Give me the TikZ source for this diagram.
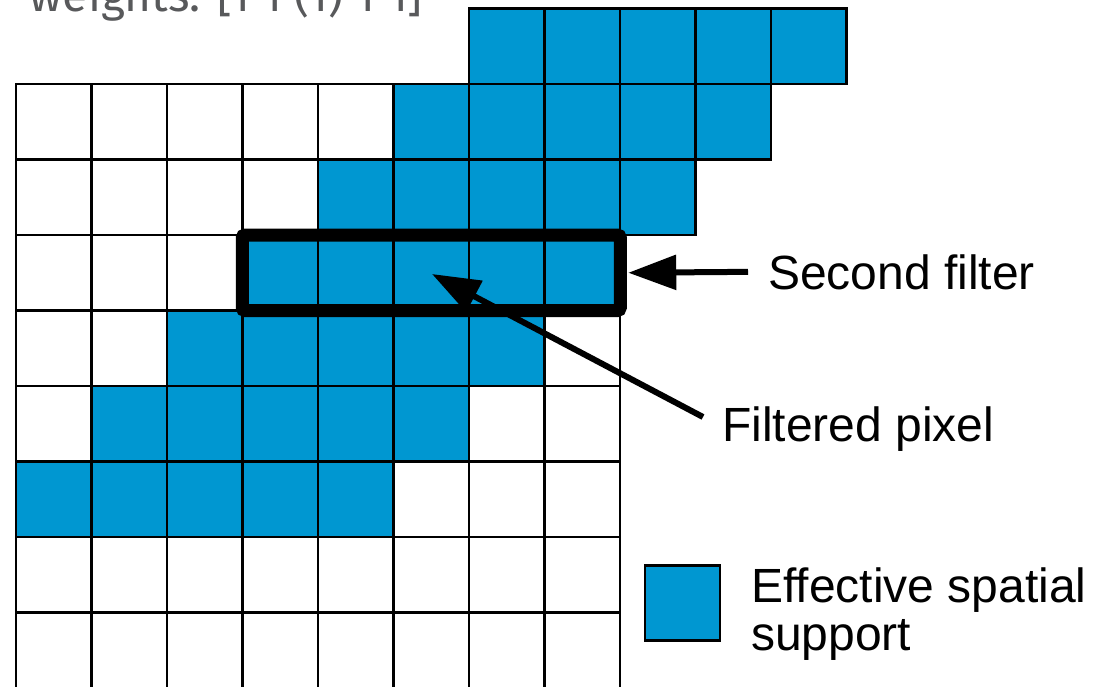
\documentclass[tikz,border=0pt]{standalone}
\usepackage{fontspec}
\setmainfont{Liberation Sans}
\newfontfamily\headfont{Fira Sans}
\usetikzlibrary{arrows.meta}
\definecolor{cellblue}{HTML}{0097D1}
\definecolor{headgrey}{HTML}{58595B}
\tikzset{
  cellline/.style={draw=black, line width=2.5pt},
  bluecell/.style={cellline, fill=cellblue},
  filterbox/.style={draw=black, line width=13pt, rounded corners=3pt, inner sep=0pt, outer sep=0pt,
    minimum width=378pt, minimum height=75.5pt},
  label/.style={font=\fontsize{48}{48}\selectfont, inner sep=0pt, align=left},
  pointer/.style={line width=6pt, -{Triangle[length=48pt, width=34pt]}},
}
\begin{document}
\begin{tikzpicture}[x=1pt, y=-1pt]
  \clip (0,0) rectangle (1105,687);
  \fill[white] (0,0) rectangle (1105,687);

  % heading, partly above the page
  \node[anchor=base east, inner sep=0pt, text=headgrey, font=\headfont\fontsize{46}{50}\selectfont]
    (head) at (423,12) {weights: [1 1 (1) 1 1]};

  % white 8 x 8 grid
  \foreach \r in {0,...,7}
    \foreach \c in {0,...,7}
      \draw[cellline] ({16+\c*75.5},{84+\r*75.5}) rectangle ++(75.5,75.5);

  % diagonal band of support cells: row r starts at column 5-r
  \foreach \r in {-1,...,5}
    \foreach \k in {0,...,4}
      \draw[bluecell] ({16+(5-\r+\k)*75.5},{84+\r*75.5}) rectangle ++(75.5,75.5);

  % second filter outline around row 2, columns 3..7
  \node[filterbox] (box) at ({16+5.5*75.5},{84+2.5*75.5}) {};
  \coordinate (px) at (432,274);

  % labels
  \node[label, anchor=base west] (sec) at (768,289) {Second filter};
  \node[label, anchor=base west] (filt) at (722,441) {Filtered pixel};
  \coordinate (filtTail) at (703,417);

  % legend (base anchor sits on the last line)
  \node[draw=black, line width=2.5pt, fill=cellblue, minimum size=75pt, inner sep=0pt] (key) at (682.5,603) {};
  \node[label, anchor=base west] (keytext) at (751,650) {Effective spatial\\support};

  % connectors
  \draw[pointer] ([xshift=-20pt]sec.west) -- ([xshift=8pt]box.east);
  \draw[pointer] (filtTail) -- (px);
\end{tikzpicture}
\end{document}
